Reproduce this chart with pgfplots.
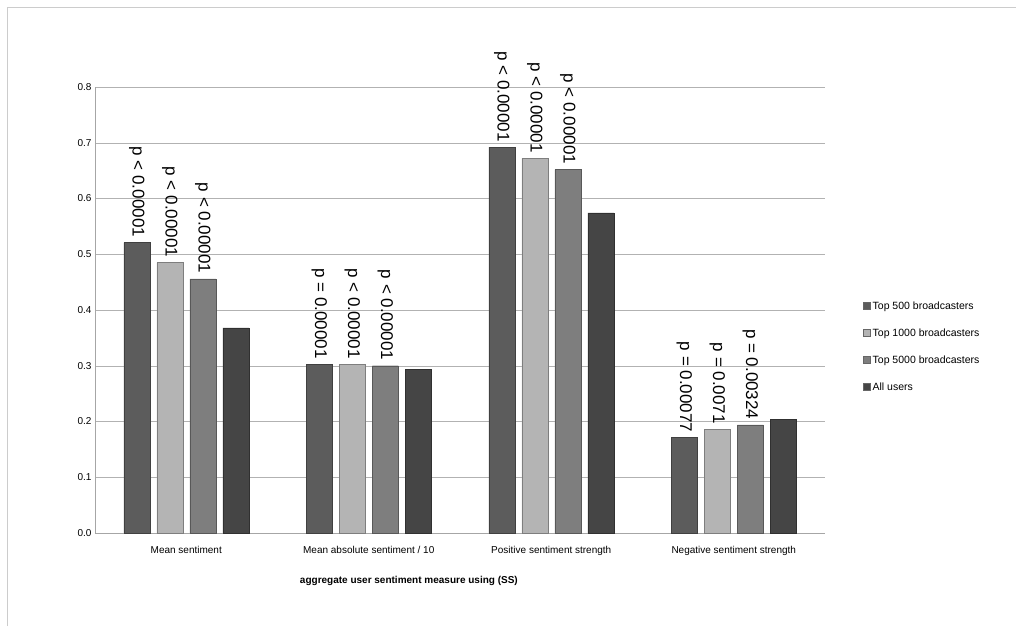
\documentclass[border=0pt]{standalone}
\usepackage{pgfplots}
\pgfplotsset{compat=1.18}
\usepackage{fontspec}
\setmainfont{Liberation Sans}
\definecolor{cA}{HTML}{5C5C5C}
\definecolor{cB}{HTML}{B4B4B4}
\definecolor{cC}{HTML}{7E7E7E}
\definecolor{cD}{HTML}{454545}
\begin{document}
\begin{tikzpicture}
\useasboundingbox (0pt,0pt) rectangle (1016pt,626pt);
\draw[gray!40] (7pt,0pt) -- (7pt,619pt) -- (1016pt,619pt);
\begin{axis}[at={(95pt,93pt)},anchor=south west,scale only axis,width=730pt,height=446pt,
  ymin=0,ymax=0.8,xmin=-0.5,xmax=3.5,ytick={0,0.1,...,0.8},
  /pgf/number format/.cd,fixed,fixed zerofill,precision=1,assume math mode=true,/pgfplots/.cd,
  ymajorgrids,major grid style={gray!60},axis line style={gray!70},
  axis x line*=bottom,axis y line*=left,
  tick style={draw=none},
  xtick={0,1,2,3},xticklabels={Mean sentiment,Mean absolute sentiment / 10,Positive sentiment strength,Negative sentiment strength},
  ticklabel style={font=\fontsize{10}{12}\selectfont},
  xticklabel style={yshift=-5pt},
  xlabel={\textbf{aggregate user sentiment measure using (SS)}},
  xlabel style={font=\fontsize{10}{12}\selectfont,at={(0.43,0)},yshift=-40pt},
  ybar=7pt,bar width=26pt,clip=false,
  legend style={at={(1.048,0.417)},anchor=west,draw=none,font=\fontsize{10.5}{12}\selectfont,row sep=14pt,cells={anchor=west}},
  legend image code/.code={\fill[#1,draw=black!60] (0pt,-3pt) rectangle (7pt,4pt);},
  point meta=explicit symbolic,
  nodes near coords,
  nodes near coords style={rotate=-90,anchor=east,font=\fontsize{17}{19}\selectfont,xshift=-2pt},
]
\addplot[fill=cA,draw=cA!70!black] coordinates {(0,0.521)[p < 0.00001] (1,0.303)[p = 0.00001] (2,0.692)[p < 0.00001] (3,0.171)[p = 0.00077]};
\addplot[fill=cB,draw=cB!70!black] coordinates {(0,0.485)[p < 0.00001] (1,0.303)[p < 0.00001] (2,0.672)[p < 0.00001] (3,0.186)[p = 0.0071]};
\addplot[fill=cC,draw=cC!70!black] coordinates {(0,0.456)[p < 0.00001] (1,0.300)[p < 0.00001] (2,0.652)[p < 0.00001] (3,0.194)[p = 0.00324]};
\addplot[fill=cD,draw=cD!70!black] coordinates {(0,0.368)[] (1,0.293)[] (2,0.574)[] (3,0.204)[]};
\legend{Top 500 broadcasters,Top 1000 broadcasters,Top 5000 broadcasters,All users}
\end{axis}
\end{tikzpicture}
\end{document}
